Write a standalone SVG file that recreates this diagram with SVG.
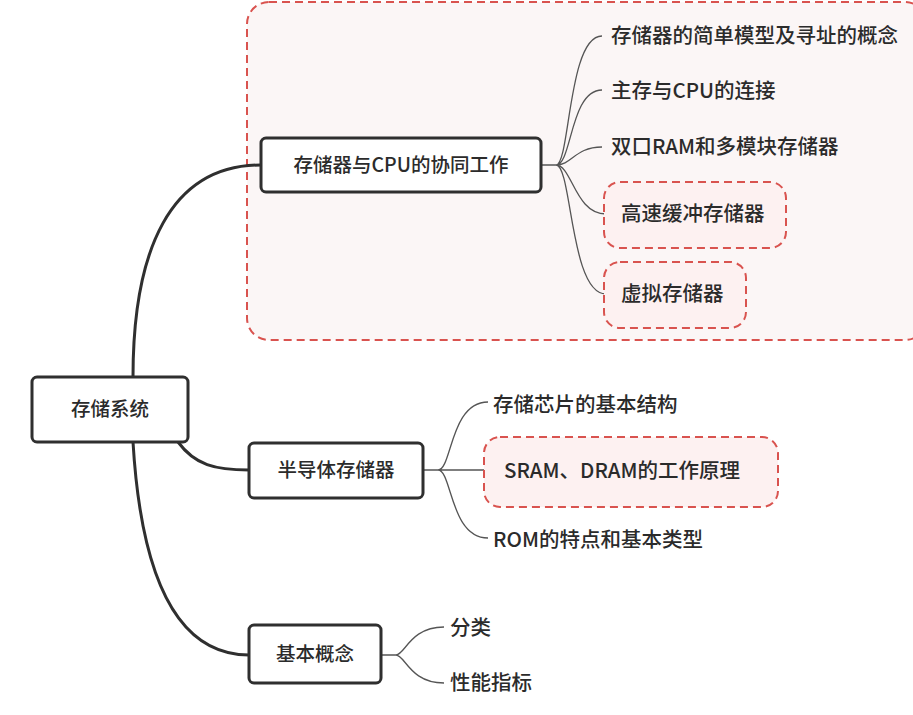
<svg xmlns="http://www.w3.org/2000/svg" width="913" height="715" viewBox="0 0 913 715">
<style>
text{font-family:"Noto Sans CJK SC","Liberation Sans",sans-serif;fill:#2b2b2b;font-size:20.5px;font-weight:500}
.n{fill:#fff;stroke:#2f2f2f;stroke-width:3}
.hl{fill:#fdf1f1;stroke:#d9534f;stroke-width:2;stroke-dasharray:8 5}
.main{fill:none;stroke:#2f2f2f;stroke-width:3}
.sub{fill:none;stroke:#555;stroke-width:1.3}
.mid{font-size:19.5px;font-weight:500}
</style>
<rect width="913" height="715" fill="#fff"/>
<rect x="247" y="2" width="680" height="338" rx="22" fill="#fbf6f6" stroke="#d9534f" stroke-width="2" stroke-dasharray="8 5"/>
<g id="connectors">
<path class="main" d="M133 377 C133 250 170 165 261 165"/>
<path class="main" d="M178 442 C195 465 215 470 249 470"/>
<path class="main" d="M133 442 C140 560 170 655 249 655"/>
<path class="sub" d="M541 165 H556 C570 165 568 36 602 36 M556 165 C572 165 570 90 602 90 M556 165 C572 165 575 147 602 147 M556 165 C572 165 575 214 606 214 M556 165 C572 165 570 294 606 294"/>
<path class="sub" d="M423 470 H438 C452 470 450 402 488 402 M438 470 H486 M438 470 C452 470 450 538 488 538"/>
<path class="sub" d="M381 655 H396 C405 655 410 627 444 627 M396 655 C405 655 410 683 444 683"/>
</g>
<g id="root"><rect class="n" x="32" y="377" width="156" height="65" rx="5"/><text x="110" y="416" text-anchor="middle" class="mid">存储系统</text></g>
<g id="n1"><rect class="n" x="261" y="138" width="280" height="54" rx="5"/><text x="401" y="172" text-anchor="middle" class="mid">存储器与CPU的协同工作</text></g>
<g id="n2"><rect class="n" x="249" y="443" width="174" height="55" rx="5"/><text x="336" y="477" text-anchor="middle" class="mid">半导体存储器</text></g>
<g id="n3"><rect class="n" x="249" y="625" width="132" height="58" rx="5"/><text x="315" y="661" text-anchor="middle" class="mid">基本概念</text></g>
<g id="l1"><text x="611" y="43">存储器的简单模型及寻址的概念</text></g>
<g id="l2"><text x="611" y="98">主存与CPU的连接</text></g>
<g id="l3"><text x="611" y="154">双口RAM和多模块存储器</text></g>
<g id="l4"><rect class="hl" x="604" y="182" width="182" height="66" rx="16"/><text x="621" y="221">高速缓冲存储器</text></g>
<g id="l5"><rect class="hl" x="604" y="262" width="142" height="66" rx="16"/><text x="621" y="301">虚拟存储器</text></g>
<g id="l6"><text x="493" y="412">存储芯片的基本结构</text></g>
<g id="l7"><rect class="hl" x="484" y="437" width="294" height="70" rx="16"/><text x="504" y="478">SRAM、DRAM的工作原理</text></g>
<g id="l8"><text x="493" y="547">ROM的特点和基本类型</text></g>
<g id="l9"><text x="450" y="635">分类</text></g>
<g id="l10"><text x="450" y="690">性能指标</text></g>
</svg>
